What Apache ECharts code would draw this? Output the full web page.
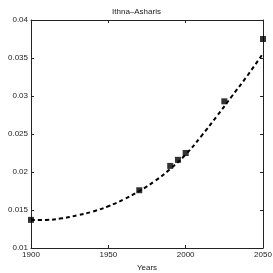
<!DOCTYPE html>
<html><head><meta charset="utf-8">
<script src="https://cdn.jsdelivr.net/npm/echarts@6/dist/echarts.min.js"></script>
<style>html,body{margin:0;padding:0;background:#fff}#c{width:273px;height:273px}</style>
</head><body><div id="c"></div>
<script>
var title = 'Ithna\u2013Asharis';
var xLabel = 'Years';
var yLabel = '% of Adherents';
var pointYears = [1900, 1970, 1990, 1995, 2000, 2025, 2050];
var pointValues = [0.0137, 0.0176, 0.0208, 0.0216, 0.0225, 0.0293, 0.0375];
var fitYears = [1900, 1910, 1920, 1930, 1940, 1950, 1960, 1970, 1980, 1990, 2000, 2010, 2020, 2030, 2040, 2050];
var fitValues = [0.0137, 0.0137, 0.0139, 0.0143, 0.0148, 0.0155, 0.0164, 0.0175, 0.0188, 0.0204, 0.0223, 0.0247, 0.0273, 0.0300, 0.0327, 0.0356];
var xTicks = [1900, 1950, 2000, 2050];
var yTicks = [0.01, 0.015, 0.02, 0.025, 0.03, 0.035, 0.04];

var font = 'Liberation Sans';
var chart = echarts.init(document.getElementById('c'), null, {renderer: 'canvas'});
var axisCommon = {
  axisLine: {show: true, onZero: false, lineStyle: {color: '#222', width: 1}},
  axisTick: {show: true, inside: true, length: 3, lineStyle: {color: '#222'}},
  splitLine: {show: false}
};
chart.setOption({
  animation: false,
  backgroundColor: '#fff',
  title: {text: title, left: 'center', top: 3, textStyle: {fontFamily: font, fontSize: 8, fontWeight: 'normal', color: '#222'}},
  grid: {left: 31, right: 10, top: 20, bottom: 25, containLabel: false, outerBoundsMode: 'none'},
  xAxis: [
    Object.assign({type: 'value', min: 1900, max: 2050, interval: 50, name: xLabel, nameLocation: 'middle', nameGap: 13,
      nameTextStyle: {fontFamily: font, fontSize: 8, color: '#222'},
      axisLabel: {fontFamily: font, fontSize: 8, color: '#222', margin: 3, formatter: function(v){return xTicks.indexOf(v) >= 0 ? String(v) : '';}}}, axisCommon),
    Object.assign({type: 'value', min: 1900, max: 2050, interval: 50, position: 'top', axisLabel: {show: false}}, axisCommon)
  ],
  yAxis: [
    Object.assign({type: 'value', min: 0.01, max: 0.04, interval: 0.005, name: yLabel, nameLocation: 'middle', nameGap: 22,
      nameTextStyle: {fontFamily: font, fontSize: 8, color: '#222'},
      axisLabel: {fontFamily: font, fontSize: 8, color: '#222', margin: 3, formatter: function(v){
        for (var i = 0; i < yTicks.length; i++) if (Math.abs(yTicks[i] - v) < 1e-9) return String(yTicks[i]);
        return '';}}}, axisCommon),
    Object.assign({type: 'value', min: 0.01, max: 0.04, interval: 0.005, position: 'right', axisLabel: {show: false}}, axisCommon)
  ],
  series: [
    {type: 'line', data: fitYears.map(function(y, i){return [y, fitValues[i]];}), smooth: true, showSymbol: false,
     lineStyle: {color: '#000', width: 2, type: [4, 3]}, z: 2},
    {type: 'scatter', data: pointYears.map(function(y, i){return [y, pointValues[i]];}), symbol: 'rect', symbolSize: 6,
     itemStyle: {color: '#000'}, z: 3}
  ]
});
</script></body></html>
